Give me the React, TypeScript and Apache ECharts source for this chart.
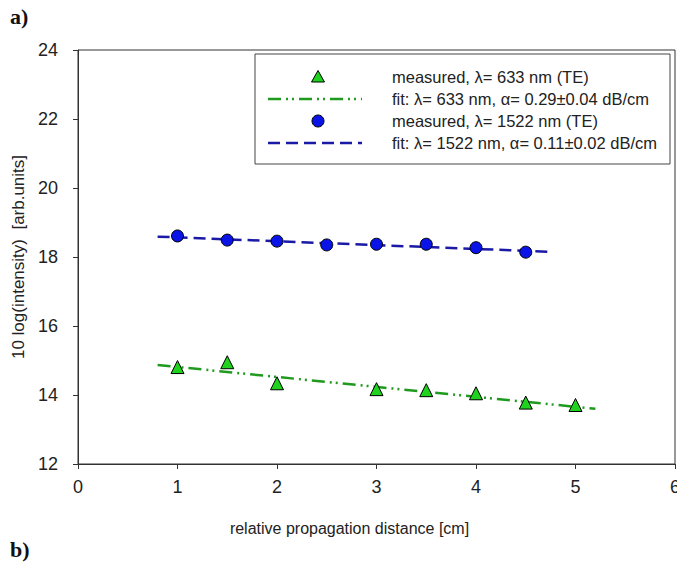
import React, { useEffect, useRef } from "react";
import * as echarts from "echarts";

const distance633 = [1, 1.5, 2, 3, 3.5, 4, 4.5, 5];
const intensity633 = [14.81, 14.95, 14.34, 14.17, 14.14, 14.05, 13.78, 13.71];
const distance1522 = [1, 1.5, 2, 2.5, 3, 3.5, 4, 4.5];
const intensity1522 = [18.61, 18.49, 18.46, 18.35, 18.37, 18.37, 18.27, 18.14];
const fit633X = [0.8, 5.2];
const fit633Y = [14.87, 13.6];
const fit1522X = [0.8, 4.75];
const fit1522Y = [18.59, 18.15];
const legendLabels = [
  "measured, λ= 633 nm (TE)",
  "fit: λ= 633 nm, α= 0.29±0.04 dB/cm",
  "measured, λ= 1522 nm (TE)",
  "fit: λ= 1522 nm, α= 0.11±0.02 dB/cm",
];

const FONT = "Liberation Sans, Arial, sans-serif";
const GREEN = "#1ed21e";
const GREEN_LINE = "#1f9a1f";
const BLUE = "#0a14e6";
const BLUE_LINE = "#1a1aa6";
const DASHDOT = [13, 5, 2, 4, 2, 5];
const DASH = [12, 6];

const pairs = (xs: number[], ys: number[]) => xs.map((x, i) => [x, ys[i]]);

export default function App() {
  const ref = useRef<HTMLDivElement>(null);
  useEffect(() => {
    const chart = echarts.init(ref.current!, null, { renderer: "svg" });
    const lx = 268, rx = 362, sx = 318, tx = 392;
    const rows = [77, 99, 121, 143];
    chart.setOption({
      animation: false,
      backgroundColor: "#fff",
      grid: {
        left: 78,
        top: 50,
        right: 2,
        bottom: 110,
        containLabel: false,
        outerBoundsMode: "none",
        show: true,
        borderColor: "#333",
        borderWidth: 1,
        backgroundColor: "transparent",
      },
      xAxis: {
        type: "value",
        min: 0,
        max: 6,
        interval: 1,
        name: "relative propagation distance [cm]",
        nameLocation: "middle",
        nameGap: 56,
        nameTextStyle: { fontFamily: FONT, fontSize: 16, color: "#222", padding: [0, 54, 0, 0] },
        axisLine: { show: true, lineStyle: { color: "#333", width: 1 } },
        axisTick: { show: true, inside: false, length: 5, lineStyle: { color: "#333" } },
        axisLabel: { fontFamily: FONT, fontSize: 18, color: "#222", margin: 14 },
        splitLine: { show: false },
      },
      yAxis: {
        type: "value",
        min: 12,
        max: 24,
        interval: 2,
        name: "10 log(intensity)  [arb.units]",
        nameLocation: "middle",
        nameGap: 50,
        nameTextStyle: { fontFamily: FONT, fontSize: 17, color: "#222" },
        axisLine: { show: true, lineStyle: { color: "#333", width: 1 } },
        axisTick: { show: true, inside: false, length: 5, lineStyle: { color: "#333" } },
        axisLabel: { fontFamily: FONT, fontSize: 18, color: "#222", margin: 20 },
        splitLine: { show: false },
      },
      series: [
        {
          type: "line",
          data: pairs(fit633X, fit633Y),
          symbol: "none",
          lineStyle: { color: GREEN_LINE, width: 2.5, type: DASHDOT },
          z: 2,
        },
        {
          type: "line",
          data: pairs(fit1522X, fit1522Y),
          symbol: "none",
          lineStyle: { color: BLUE_LINE, width: 2.5, type: DASH },
          z: 2,
        },
        {
          type: "scatter",
          data: pairs(distance633, intensity633),
          symbol: "triangle",
          symbolSize: 13,
          itemStyle: { color: GREEN, borderColor: "#000", borderWidth: 1, opacity: 1 },
          z: 3,
        },
        {
          type: "scatter",
          data: pairs(distance1522, intensity1522),
          symbol: "circle",
          symbolSize: 12,
          itemStyle: { color: BLUE, borderColor: "#000", borderWidth: 1, opacity: 1 },
          z: 3,
        },
      ],
      graphic: [
        {
          type: "rect",
          shape: { x: 255, y: 54, width: 415, height: 110 },
          style: { fill: "#fff", stroke: "#444", lineWidth: 1 },
          z: 10,
        },
        {
          type: "polygon",
          shape: { points: [[311.5, 82], [318, 70.5], [324.5, 82]] },
          style: { fill: GREEN, stroke: "#000", lineWidth: 1 },
          z: 11,
        },
        {
          type: "line",
          shape: { x1: lx, y1: rows[1], x2: rx, y2: rows[1] },
          style: { stroke: GREEN_LINE, lineWidth: 2.5, lineDash: DASHDOT },
          z: 11,
        },
        {
          type: "circle",
          shape: { cx: sx, cy: rows[2], r: 6 },
          style: { fill: BLUE, stroke: "#000", lineWidth: 1 },
          z: 11,
        },
        {
          type: "line",
          shape: { x1: lx, y1: rows[3], x2: rx, y2: rows[3] },
          style: { stroke: BLUE_LINE, lineWidth: 2.5, lineDash: DASH },
          z: 11,
        },
        ...legendLabels.map((t, i) => ({
          type: "text",
          x: tx,
          y: rows[i],
          style: {
            text: t,
            fontFamily: FONT,
            fontSize: 16.5,
            fill: "#222",
            verticalAlign: "middle",
            align: "left",
          },
          z: 11,
        })),
        {
          type: "text",
          x: 10,
          y: 16,
          style: {
            text: "a)",
            fontFamily: "Liberation Serif, Times New Roman, serif",
            fontSize: 22,
            fontWeight: "bold",
            fill: "#111",
            verticalAlign: "middle",
          },
        },
        {
          type: "text",
          x: 10,
          y: 549,
          style: {
            text: "b)",
            fontFamily: "Liberation Serif, Times New Roman, serif",
            fontSize: 22,
            fontWeight: "bold",
            fill: "#111",
            verticalAlign: "middle",
          },
        },
      ],
    });
    return () => chart.dispose();
  }, []);
  return (
    <div
      ref={ref}
      style={{ position: "fixed", left: 0, top: 0, width: 677, height: 574, background: "#fff" }}
    />
  );
}
